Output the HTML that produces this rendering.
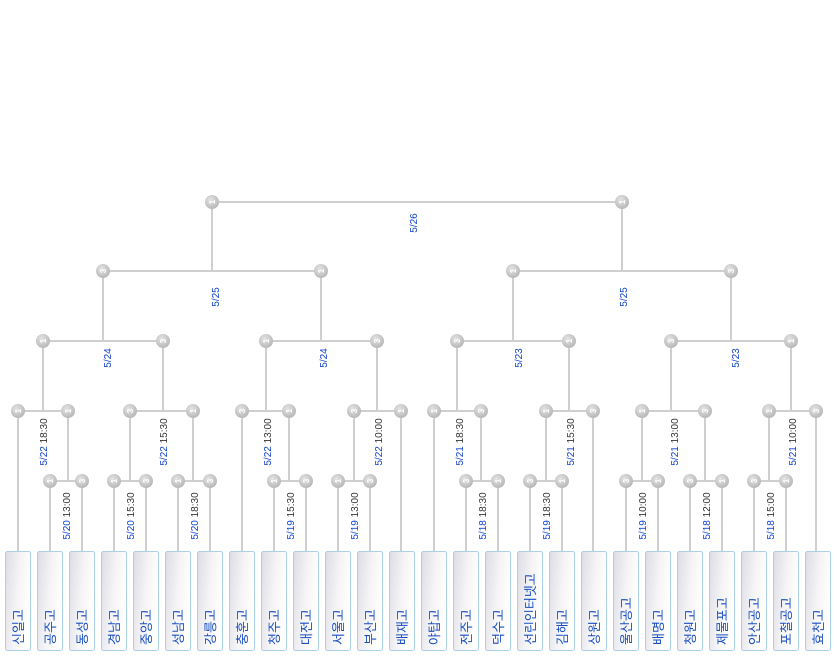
<!DOCTYPE html>
<html><head><meta charset="utf-8"><style>
html,body{margin:0;padding:0;background:#fff;width:837px;height:656px;overflow:hidden}
svg{display:block}
.l{stroke:#cfcfcf;stroke-width:2;fill:none}
.n text{fill:#fff;font:bold 8px "Liberation Sans",sans-serif}
.lb{font:10px "Liberation Sans",sans-serif}
.d{fill:#1144cc}.t{fill:#333}
.nm{font:13px "Liberation Sans","Noto Sans CJK KR",sans-serif;fill:#1a4fc0}
</style></head><body>
<svg width="837" height="656" viewBox="0 0 837 656" xmlns="http://www.w3.org/2000/svg">
<defs>
<radialGradient id="g" cx="40%" cy="35%" r="65%"><stop offset="0" stop-color="#e4e4e4"/><stop offset="1" stop-color="#b8b8b8"/></radialGradient>
<linearGradient id="b" x1="0" y1="0" x2="1" y2="0.35"><stop offset="0" stop-color="#dcdce4"/><stop offset="0.55" stop-color="#f4f4f6"/><stop offset="1" stop-color="#ffffff"/></linearGradient>
</defs>
<g class="l">
<path d="M212 202H622M212 202V271M622 202V271"/>
<path d="M103 271H321M103 271V341M321 271V341M513 271H731M513 271V341M731 271V341"/>
<path d="M43 341H163M43 341V411M163 341V411M266 341H377M266 341V411M377 341V411M457 341H569M457 341V411M569 341V411M671 341H791M671 341V411M791 341V411"/>
<path d="M18 411H68M18 411V551M68 411V481M130 411H193M130 411V481M193 411V481M242 411H289M242 411V551M289 411V481M354 411H401M354 411V481M401 411V551M434 411H481M434 411V551M481 411V481M546 411H593M546 411V481M593 411V551M642 411H705M642 411V481M705 411V481M769 411H816M769 411V481M816 411V551"/>
<path d="M50 481H82M50 481V551M82 481V551M114 481H146M114 481V551M146 481V551M178 481H210M178 481V551M210 481V551M274 481H306M274 481V551M306 481V551M338 481H370M338 481V551M370 481V551M466 481H498M466 481V551M498 481V551M530 481H562M530 481V551M562 481V551M626 481H658M626 481V551M658 481V551M690 481H722M690 481V551M722 481V551M754 481H786M754 481V551M786 481V551"/>
</g>
<g class="n">
<g transform="translate(212,202)"><circle r="7" fill="url(#g)"/><text transform="rotate(-90)" text-anchor="middle" y="3">1</text></g>
<g transform="translate(622,202)"><circle r="7" fill="url(#g)"/><text transform="rotate(-90)" text-anchor="middle" y="3">1</text></g>
<g transform="translate(103,271)"><circle r="7" fill="url(#g)"/><text transform="rotate(-90)" text-anchor="middle" y="3">3</text></g>
<g transform="translate(321,271)"><circle r="7" fill="url(#g)"/><text transform="rotate(-90)" text-anchor="middle" y="3">1</text></g>
<g transform="translate(513,271)"><circle r="7" fill="url(#g)"/><text transform="rotate(-90)" text-anchor="middle" y="3">1</text></g>
<g transform="translate(731,271)"><circle r="7" fill="url(#g)"/><text transform="rotate(-90)" text-anchor="middle" y="3">3</text></g>
<g transform="translate(43,341)"><circle r="7" fill="url(#g)"/><text transform="rotate(-90)" text-anchor="middle" y="3">1</text></g>
<g transform="translate(163,341)"><circle r="7" fill="url(#g)"/><text transform="rotate(-90)" text-anchor="middle" y="3">3</text></g>
<g transform="translate(266,341)"><circle r="7" fill="url(#g)"/><text transform="rotate(-90)" text-anchor="middle" y="3">1</text></g>
<g transform="translate(377,341)"><circle r="7" fill="url(#g)"/><text transform="rotate(-90)" text-anchor="middle" y="3">3</text></g>
<g transform="translate(457,341)"><circle r="7" fill="url(#g)"/><text transform="rotate(-90)" text-anchor="middle" y="3">3</text></g>
<g transform="translate(569,341)"><circle r="7" fill="url(#g)"/><text transform="rotate(-90)" text-anchor="middle" y="3">1</text></g>
<g transform="translate(671,341)"><circle r="7" fill="url(#g)"/><text transform="rotate(-90)" text-anchor="middle" y="3">3</text></g>
<g transform="translate(791,341)"><circle r="7" fill="url(#g)"/><text transform="rotate(-90)" text-anchor="middle" y="3">1</text></g>
<g transform="translate(18,411)"><circle r="7" fill="url(#g)"/><text transform="rotate(-90)" text-anchor="middle" y="3">1</text></g>
<g transform="translate(68,411)"><circle r="7" fill="url(#g)"/><text transform="rotate(-90)" text-anchor="middle" y="3">1</text></g>
<g transform="translate(130,411)"><circle r="7" fill="url(#g)"/><text transform="rotate(-90)" text-anchor="middle" y="3">3</text></g>
<g transform="translate(193,411)"><circle r="7" fill="url(#g)"/><text transform="rotate(-90)" text-anchor="middle" y="3">1</text></g>
<g transform="translate(242,411)"><circle r="7" fill="url(#g)"/><text transform="rotate(-90)" text-anchor="middle" y="3">3</text></g>
<g transform="translate(289,411)"><circle r="7" fill="url(#g)"/><text transform="rotate(-90)" text-anchor="middle" y="3">1</text></g>
<g transform="translate(354,411)"><circle r="7" fill="url(#g)"/><text transform="rotate(-90)" text-anchor="middle" y="3">3</text></g>
<g transform="translate(401,411)"><circle r="7" fill="url(#g)"/><text transform="rotate(-90)" text-anchor="middle" y="3">1</text></g>
<g transform="translate(434,411)"><circle r="7" fill="url(#g)"/><text transform="rotate(-90)" text-anchor="middle" y="3">1</text></g>
<g transform="translate(481,411)"><circle r="7" fill="url(#g)"/><text transform="rotate(-90)" text-anchor="middle" y="3">3</text></g>
<g transform="translate(546,411)"><circle r="7" fill="url(#g)"/><text transform="rotate(-90)" text-anchor="middle" y="3">1</text></g>
<g transform="translate(593,411)"><circle r="7" fill="url(#g)"/><text transform="rotate(-90)" text-anchor="middle" y="3">3</text></g>
<g transform="translate(642,411)"><circle r="7" fill="url(#g)"/><text transform="rotate(-90)" text-anchor="middle" y="3">1</text></g>
<g transform="translate(705,411)"><circle r="7" fill="url(#g)"/><text transform="rotate(-90)" text-anchor="middle" y="3">3</text></g>
<g transform="translate(769,411)"><circle r="7" fill="url(#g)"/><text transform="rotate(-90)" text-anchor="middle" y="3">1</text></g>
<g transform="translate(816,411)"><circle r="7" fill="url(#g)"/><text transform="rotate(-90)" text-anchor="middle" y="3">3</text></g>
<g transform="translate(50,481)"><circle r="7" fill="url(#g)"/><text transform="rotate(-90)" text-anchor="middle" y="3">1</text></g>
<g transform="translate(82,481)"><circle r="7" fill="url(#g)"/><text transform="rotate(-90)" text-anchor="middle" y="3">3</text></g>
<g transform="translate(114,481)"><circle r="7" fill="url(#g)"/><text transform="rotate(-90)" text-anchor="middle" y="3">1</text></g>
<g transform="translate(146,481)"><circle r="7" fill="url(#g)"/><text transform="rotate(-90)" text-anchor="middle" y="3">3</text></g>
<g transform="translate(178,481)"><circle r="7" fill="url(#g)"/><text transform="rotate(-90)" text-anchor="middle" y="3">1</text></g>
<g transform="translate(210,481)"><circle r="7" fill="url(#g)"/><text transform="rotate(-90)" text-anchor="middle" y="3">3</text></g>
<g transform="translate(274,481)"><circle r="7" fill="url(#g)"/><text transform="rotate(-90)" text-anchor="middle" y="3">1</text></g>
<g transform="translate(306,481)"><circle r="7" fill="url(#g)"/><text transform="rotate(-90)" text-anchor="middle" y="3">3</text></g>
<g transform="translate(338,481)"><circle r="7" fill="url(#g)"/><text transform="rotate(-90)" text-anchor="middle" y="3">1</text></g>
<g transform="translate(370,481)"><circle r="7" fill="url(#g)"/><text transform="rotate(-90)" text-anchor="middle" y="3">3</text></g>
<g transform="translate(466,481)"><circle r="7" fill="url(#g)"/><text transform="rotate(-90)" text-anchor="middle" y="3">3</text></g>
<g transform="translate(498,481)"><circle r="7" fill="url(#g)"/><text transform="rotate(-90)" text-anchor="middle" y="3">1</text></g>
<g transform="translate(530,481)"><circle r="7" fill="url(#g)"/><text transform="rotate(-90)" text-anchor="middle" y="3">3</text></g>
<g transform="translate(562,481)"><circle r="7" fill="url(#g)"/><text transform="rotate(-90)" text-anchor="middle" y="3">1</text></g>
<g transform="translate(626,481)"><circle r="7" fill="url(#g)"/><text transform="rotate(-90)" text-anchor="middle" y="3">3</text></g>
<g transform="translate(658,481)"><circle r="7" fill="url(#g)"/><text transform="rotate(-90)" text-anchor="middle" y="3">1</text></g>
<g transform="translate(690,481)"><circle r="7" fill="url(#g)"/><text transform="rotate(-90)" text-anchor="middle" y="3">3</text></g>
<g transform="translate(722,481)"><circle r="7" fill="url(#g)"/><text transform="rotate(-90)" text-anchor="middle" y="3">1</text></g>
<g transform="translate(754,481)"><circle r="7" fill="url(#g)"/><text transform="rotate(-90)" text-anchor="middle" y="3">3</text></g>
<g transform="translate(786,481)"><circle r="7" fill="url(#g)"/><text transform="rotate(-90)" text-anchor="middle" y="3">1</text></g>
</g>
<g class="lb" text-anchor="middle">
<text class="d" transform="translate(417,223) rotate(-90)">5/26</text>
<text class="d" transform="translate(219,297) rotate(-90)">5/25</text>
<text class="d" transform="translate(627,297) rotate(-90)">5/25</text>
<text class="d" transform="translate(111,358) rotate(-90)">5/24</text>
<text class="d" transform="translate(327,358) rotate(-90)">5/24</text>
<text class="d" transform="translate(522,358) rotate(-90)">5/23</text>
<text class="d" transform="translate(739,358) rotate(-90)">5/23</text>
<text transform="translate(47,442) rotate(-90)"><tspan class="d">5/22</tspan><tspan class="t"> 18:30</tspan></text>
<text transform="translate(167,442) rotate(-90)"><tspan class="d">5/22</tspan><tspan class="t"> 15:30</tspan></text>
<text transform="translate(271,442) rotate(-90)"><tspan class="d">5/22</tspan><tspan class="t"> 13:00</tspan></text>
<text transform="translate(382,442) rotate(-90)"><tspan class="d">5/22</tspan><tspan class="t"> 10:00</tspan></text>
<text transform="translate(463,442) rotate(-90)"><tspan class="d">5/21</tspan><tspan class="t"> 18:30</tspan></text>
<text transform="translate(574,442) rotate(-90)"><tspan class="d">5/21</tspan><tspan class="t"> 15:30</tspan></text>
<text transform="translate(678,442) rotate(-90)"><tspan class="d">5/21</tspan><tspan class="t"> 13:00</tspan></text>
<text transform="translate(796,442) rotate(-90)"><tspan class="d">5/21</tspan><tspan class="t"> 10:00</tspan></text>
<text transform="translate(70,516) rotate(-90)"><tspan class="d">5/20</tspan><tspan class="t"> 13:00</tspan></text>
<text transform="translate(134,516) rotate(-90)"><tspan class="d">5/20</tspan><tspan class="t"> 15:30</tspan></text>
<text transform="translate(198,516) rotate(-90)"><tspan class="d">5/20</tspan><tspan class="t"> 18:30</tspan></text>
<text transform="translate(294,516) rotate(-90)"><tspan class="d">5/19</tspan><tspan class="t"> 15:30</tspan></text>
<text transform="translate(358,516) rotate(-90)"><tspan class="d">5/19</tspan><tspan class="t"> 13:00</tspan></text>
<text transform="translate(486,516) rotate(-90)"><tspan class="d">5/18</tspan><tspan class="t"> 18:30</tspan></text>
<text transform="translate(550,516) rotate(-90)"><tspan class="d">5/19</tspan><tspan class="t"> 18:30</tspan></text>
<text transform="translate(646,516) rotate(-90)"><tspan class="d">5/19</tspan><tspan class="t"> 10:00</tspan></text>
<text transform="translate(710,516) rotate(-90)"><tspan class="d">5/18</tspan><tspan class="t"> 12:00</tspan></text>
<text transform="translate(774,516) rotate(-90)"><tspan class="d">5/18</tspan><tspan class="t"> 15:00</tspan></text>
</g>
<g stroke="#a9d2ea" stroke-width="1" fill="url(#b)">
<rect x="5.5" y="551.5" width="25" height="99" rx="2"/><rect x="37.5" y="551.5" width="25" height="99" rx="2"/><rect x="69.5" y="551.5" width="25" height="99" rx="2"/><rect x="101.5" y="551.5" width="25" height="99" rx="2"/><rect x="133.5" y="551.5" width="25" height="99" rx="2"/><rect x="165.5" y="551.5" width="25" height="99" rx="2"/><rect x="197.5" y="551.5" width="25" height="99" rx="2"/><rect x="229.5" y="551.5" width="25" height="99" rx="2"/><rect x="261.5" y="551.5" width="25" height="99" rx="2"/><rect x="293.5" y="551.5" width="25" height="99" rx="2"/><rect x="325.5" y="551.5" width="25" height="99" rx="2"/><rect x="357.5" y="551.5" width="25" height="99" rx="2"/><rect x="389.5" y="551.5" width="25" height="99" rx="2"/><rect x="421.5" y="551.5" width="25" height="99" rx="2"/><rect x="453.5" y="551.5" width="25" height="99" rx="2"/><rect x="485.5" y="551.5" width="25" height="99" rx="2"/><rect x="517.5" y="551.5" width="25" height="99" rx="2"/><rect x="549.5" y="551.5" width="25" height="99" rx="2"/><rect x="581.5" y="551.5" width="25" height="99" rx="2"/><rect x="613.5" y="551.5" width="25" height="99" rx="2"/><rect x="645.5" y="551.5" width="25" height="99" rx="2"/><rect x="677.5" y="551.5" width="25" height="99" rx="2"/><rect x="709.5" y="551.5" width="25" height="99" rx="2"/><rect x="741.5" y="551.5" width="25" height="99" rx="2"/><rect x="773.5" y="551.5" width="25" height="99" rx="2"/><rect x="805.5" y="551.5" width="25" height="99" rx="2"/>
</g>
<g class="nm">
<text transform="translate(23,645) rotate(-90)">신일고</text>
<text transform="translate(55,645) rotate(-90)">공주고</text>
<text transform="translate(87,645) rotate(-90)">동성고</text>
<text transform="translate(119,645) rotate(-90)">경남고</text>
<text transform="translate(151,645) rotate(-90)">중앙고</text>
<text transform="translate(183,645) rotate(-90)">성남고</text>
<text transform="translate(215,645) rotate(-90)">강릉고</text>
<text transform="translate(247,645) rotate(-90)">충훈고</text>
<text transform="translate(279,645) rotate(-90)">청주고</text>
<text transform="translate(311,645) rotate(-90)">대전고</text>
<text transform="translate(343,645) rotate(-90)">서울고</text>
<text transform="translate(375,645) rotate(-90)">부산고</text>
<text transform="translate(407,645) rotate(-90)">배재고</text>
<text transform="translate(439,645) rotate(-90)">야탑고</text>
<text transform="translate(471,645) rotate(-90)">전주고</text>
<text transform="translate(503,645) rotate(-90)">덕수고</text>
<text transform="translate(535,645) rotate(-90)">선린인터넷고</text>
<text transform="translate(567,645) rotate(-90)">김해고</text>
<text transform="translate(599,645) rotate(-90)">상원고</text>
<text transform="translate(631,645) rotate(-90)">울산공고</text>
<text transform="translate(663,645) rotate(-90)">배명고</text>
<text transform="translate(695,645) rotate(-90)">청원고</text>
<text transform="translate(727,645) rotate(-90)">제물포고</text>
<text transform="translate(759,645) rotate(-90)">안산공고</text>
<text transform="translate(791,645) rotate(-90)">포철공고</text>
<text transform="translate(823,645) rotate(-90)">효천고</text>
</g>
</svg>
</body></html>
